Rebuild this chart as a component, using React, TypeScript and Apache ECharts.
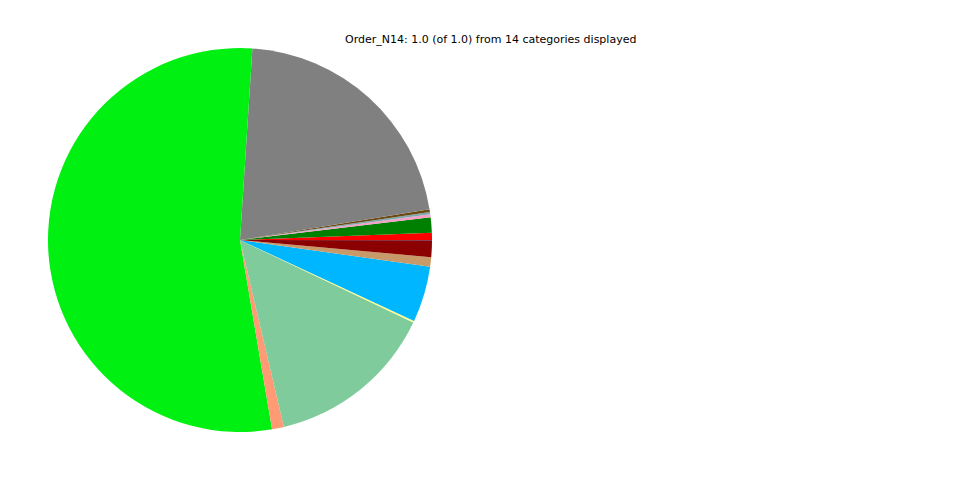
import React, { useEffect, useRef } from "react";
import * as echarts from "echarts";

const categories = [
  "Cat 1", "Cat 2", "Cat 3", "Cat 4", "Cat 5", "Cat 6", "Cat 7",
  "Cat 8", "Cat 9", "Cat 10", "Cat 11", "Cat 12", "Cat 13", "Cat 14",
];
const values = [
  0.006, 0.013, 0.0025, 0.0017, 0.0025, 0.214, 0.537,
  0.010, 0.1425, 0.0015, 0.047, 0.008, 0.014, 0.0003,
];
const colors = [
  "#ff0000", "#008000", "#f4a0c8", "#7fa8b0", "#6b4a12", "#808080", "#00f012",
  "#ff9a74", "#80cb9c", "#ffff88", "#00b6ff", "#c89a6a", "#8b0000", "#4040a0",
];
const titleText = "Order_N14: 1.0 (of 1.0) from 14 categories displayed";

export default function App() {
  const ref = useRef<HTMLDivElement>(null);
  useEffect(() => {
    document.body.style.margin = "0";
    const chart = echarts.init(ref.current!, undefined, { renderer: "svg" });
    chart.setOption({
      animation: false,
      backgroundColor: "#ffffff",
      title: {
        text: titleText,
        left: 340,
        top: 29,
        textStyle: {
          fontFamily: "DejaVu Sans",
          fontSize: 11,
          fontWeight: "normal",
          color: "#000000",
        },
      },
      series: [
        {
          type: "pie",
          center: [240, 240],
          radius: [0, 192],
          startAngle: 0,
          clockwise: false,
          label: { show: false },
          labelLine: { show: false },
          emphasis: { disabled: true },
          itemStyle: { borderWidth: 0 },
          data: categories.map((c, i) => ({
            name: c,
            value: values[i],
            itemStyle: { color: colors[i] },
          })),
        },
      ],
    });
    return () => chart.dispose();
  }, []);
  return <div ref={ref} style={{ width: 960, height: 480 }} />;
}
